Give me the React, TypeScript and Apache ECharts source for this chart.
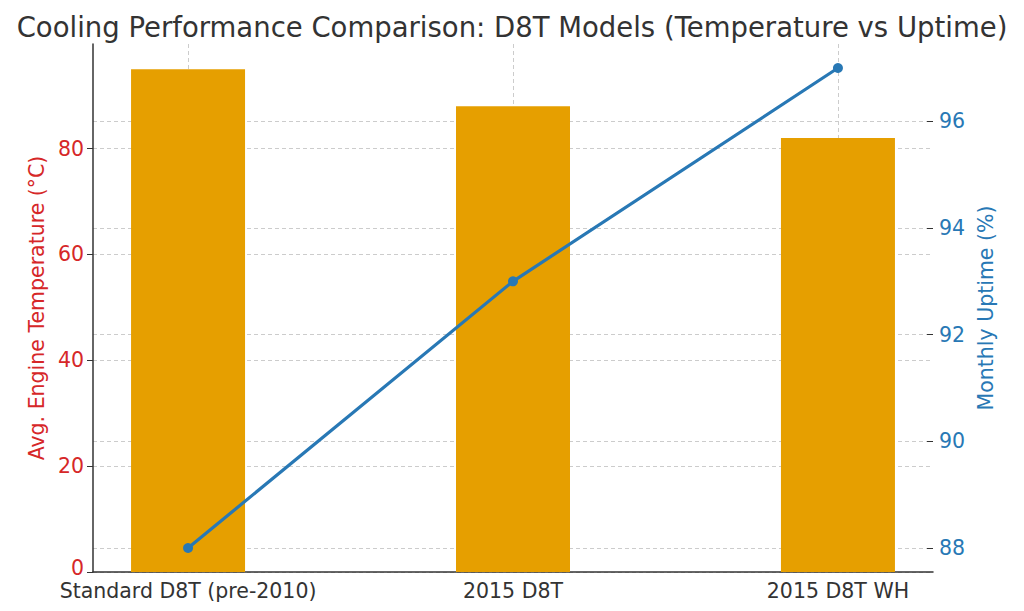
import { useEffect, useRef } from 'react';
import * as echarts from 'echarts';

// 機種ごとのデータ
const models = ['Standard D8T (pre-2010)', '2015 D8T', '2015 D8T WH'];
const engineTemp = [95, 88, 82];
const monthlyUptime = [88, 93, 97];
const tempTicks = [0, 20, 40, 60, 80];
const uptimeTicks = [88, 90, 92, 94, 96];

const FONT = 'DejaVu Sans';
const RED = '#d62728';
const BLUE = '#2878b5';
const FS = 20.5;
const GRID_LINE = { show: true, lineStyle: { color: '#cccccc', type: [4, 3] as number[], width: 1 } };

const App: React.FC = () => {
  const chartRef = useRef<HTMLDivElement>(null);

  useEffect(() => {
    if (!chartRef.current) return;
    const chart = echarts.init(chartRef.current, null, { renderer: 'svg' });

    const idx = models.map((_, i) => i);

    const option: echarts.EChartsOption = {
      animation: false,
      textStyle: { fontFamily: FONT },
      title: {
        text: 'Cooling Performance Comparison: D8T Models (Temperature vs Uptime)',
        left: 'center',
        top: 8,
        textStyle: { fontFamily: FONT, fontSize: 27.5, fontWeight: 'normal', color: '#333333' },
      },
      grid: { left: 93, right: 91, top: 44, bottom: 39 },
      xAxis: {
        type: 'value',
        min: -0.2925,
        max: 2.2925,
        axisLine: { show: true, onZero: false, lineStyle: { color: '#333333', width: 1.5 } },
        axisTick: { show: true, inside: true, length: 6, customValues: idx, lineStyle: { color: '#333333' } },
        axisLabel: {
          customValues: idx,
          margin: 11,
          fontSize: FS,
          lineHeight: 16,
          color: '#333333',
          fontFamily: FONT,
          formatter: (v: number) => models[Math.round(v)] ?? '',
        },
        splitLine: GRID_LINE,
      },
      yAxis: [
        {
          type: 'value',
          min: 0,
          max: 99.75,
          name: 'Avg. Engine Temperature (°C)',
          nameLocation: 'middle',
          nameGap: 43,
          nameTextStyle: { color: RED, fontSize: FS, fontFamily: FONT },
          axisLine: { show: true, onZero: false, lineStyle: { color: '#333333', width: 1.5 } },
          axisTick: { show: true, length: 6, customValues: tempTicks, lineStyle: { color: '#333333' } },
          axisLabel: {
            customValues: tempTicks,
            margin: 9,
            fontSize: FS,
            color: RED,
            fontFamily: FONT,
            // 0 のラベルだけ少し持ち上げて x 軸ラベルとの重なりを避ける
            formatter: (v: number) => (v === 0 ? '{z|0}' : String(v)),
            rich: { z: { padding: [0, 0, 9, 0], color: RED, fontSize: FS, fontFamily: FONT } },
          },
          splitLine: GRID_LINE,
        },
        {
          type: 'value',
          min: 87.55,
          max: 97.45,
          name: 'Monthly Uptime (%)',
          nameLocation: 'middle',
          nameGap: 37,
          nameTextStyle: { color: BLUE, fontSize: FS, fontFamily: FONT },
          axisLine: { show: false, onZero: false },
          axisTick: { show: true, inside: true, length: 6, customValues: uptimeTicks, lineStyle: { color: '#333333' } },
          axisLabel: { customValues: uptimeTicks, margin: 6, fontSize: FS, color: BLUE, fontFamily: FONT },
          splitLine: GRID_LINE,
        },
      ],
      series: [
        {
          name: 'Avg. Engine Temperature',
          type: 'bar',
          yAxisIndex: 0,
          barWidth: 114,
          data: engineTemp.map((v, i) => [i, v]),
          itemStyle: { color: '#e69f00' },
        },
        {
          name: 'Monthly Uptime',
          type: 'line',
          yAxisIndex: 1,
          data: monthlyUptime.map((v, i) => [i, v]),
          symbol: 'circle',
          symbolSize: 10,
          lineStyle: { color: BLUE, width: 3.2 },
          itemStyle: { color: BLUE },
          z: 5,
        },
      ],
    };

    chart.setOption(option);

    return () => {
      chart.dispose();
    };
  }, []);

  return (
    <div
      ref={chartRef}
      style={{ position: 'fixed', left: 0, top: 0, width: '1024px', height: '611px', background: '#ffffff' }}
    />
  );
};

export default App;
